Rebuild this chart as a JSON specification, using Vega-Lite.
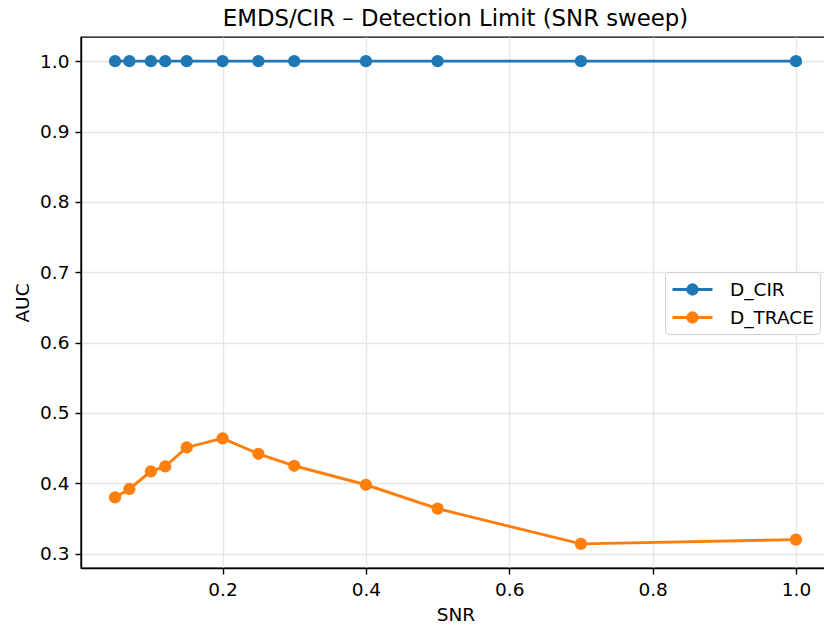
{
  "$schema": "https://vega.github.io/schema/vega-lite/v6.json",
  "autosize": "none",
  "width": 749,
  "height": 531,
  "padding": {"left": 81, "top": 37, "right": 0, "bottom": 58},
  "background": "white",
  "title": {
    "text": "EMDS/CIR – Detection Limit (SNR sweep)",
    "font": "DejaVu Sans",
    "fontSize": 22.8,
    "fontWeight": "normal",
    "color": "black",
    "anchor": "middle",
    "offset": 6
  },
  "config": {
    "view": {"stroke": "black", "strokeWidth": 1.4},
    "axis": {
      "labelFont": "DejaVu Sans",
      "labelFontSize": 18.5,
      "labelColor": "black",
      "titleFont": "DejaVu Sans",
      "titleFontSize": 18.5,
      "titleFontWeight": "normal",
      "titleColor": "black",
      "tickColor": "black",
      "tickSize": 6,
      "tickWidth": 1.4,
      "domainColor": "black",
      "domainWidth": 1.4,
      "labelPadding": 6,
      "gridColor": "#e6e6e6",
      "gridWidth": 1.4
    }
  },
  "data": {
    "values": [
      {"snr": 0.05, "auc": 1.0, "series": "D_CIR"},
      {"snr": 0.07, "auc": 1.0, "series": "D_CIR"},
      {"snr": 0.10, "auc": 1.0, "series": "D_CIR"},
      {"snr": 0.12, "auc": 1.0, "series": "D_CIR"},
      {"snr": 0.15, "auc": 1.0, "series": "D_CIR"},
      {"snr": 0.20, "auc": 1.0, "series": "D_CIR"},
      {"snr": 0.25, "auc": 1.0, "series": "D_CIR"},
      {"snr": 0.30, "auc": 1.0, "series": "D_CIR"},
      {"snr": 0.40, "auc": 1.0, "series": "D_CIR"},
      {"snr": 0.50, "auc": 1.0, "series": "D_CIR"},
      {"snr": 0.70, "auc": 1.0, "series": "D_CIR"},
      {"snr": 1.00, "auc": 1.0, "series": "D_CIR"},
      {"snr": 0.05, "auc": 0.380, "series": "D_TRACE"},
      {"snr": 0.07, "auc": 0.392, "series": "D_TRACE"},
      {"snr": 0.10, "auc": 0.417, "series": "D_TRACE"},
      {"snr": 0.12, "auc": 0.424, "series": "D_TRACE"},
      {"snr": 0.15, "auc": 0.451, "series": "D_TRACE"},
      {"snr": 0.20, "auc": 0.464, "series": "D_TRACE"},
      {"snr": 0.25, "auc": 0.442, "series": "D_TRACE"},
      {"snr": 0.30, "auc": 0.425, "series": "D_TRACE"},
      {"snr": 0.40, "auc": 0.398, "series": "D_TRACE"},
      {"snr": 0.50, "auc": 0.364, "series": "D_TRACE"},
      {"snr": 0.70, "auc": 0.314, "series": "D_TRACE"},
      {"snr": 1.00, "auc": 0.320, "series": "D_TRACE"}
    ]
  },
  "encoding": {
    "x": {
      "field": "snr",
      "type": "quantitative",
      "title": "SNR",
      "scale": {"domain": [0.0025, 1.0475], "nice": false, "zero": false},
      "axis": {"values": [0.2, 0.4, 0.6, 0.8, 1.0], "format": ".1f", "titlePadding": 7}
    },
    "y": {
      "field": "auc",
      "type": "quantitative",
      "title": "AUC",
      "scale": {"domain": [0.2797, 1.0343], "nice": false, "zero": false},
      "axis": {"values": [0.3, 0.4, 0.5, 0.6, 0.7, 0.8, 0.9, 1.0], "format": ".1f", "titlePadding": 7}
    },
    "color": {
      "field": "series",
      "type": "nominal",
      "title": null,
      "scale": {"domain": ["D_CIR", "D_TRACE"], "range": ["#1f77b4", "#ff7f0e"]},
      "legend": {
        "orient": "none",
        "legendX": 584,
        "legendY": 235,
        "symbolType": "M-1,0L3,0M0.53,0A0.47,0.47,0,1,1,1.47,0A0.47,0.47,0,1,1,0.53,0Z",
        "symbolSize": 400,
        "symbolStrokeWidth": 2.9,
        "labelFont": "DejaVu Sans",
        "labelFontSize": 18.5,
        "labelColor": "black",
        "labelOffset": 36,
        "rowPadding": 6,
        "padding": 6,
        "strokeColor": "#d0d0d0",
        "fillColor": "white",
        "cornerRadius": 4
      }
    }
  },
  "layer": [
    {"mark": {"type": "line", "strokeWidth": 2.9}},
    {"mark": {"type": "circle", "size": 150, "opacity": 1}}
  ]
}
